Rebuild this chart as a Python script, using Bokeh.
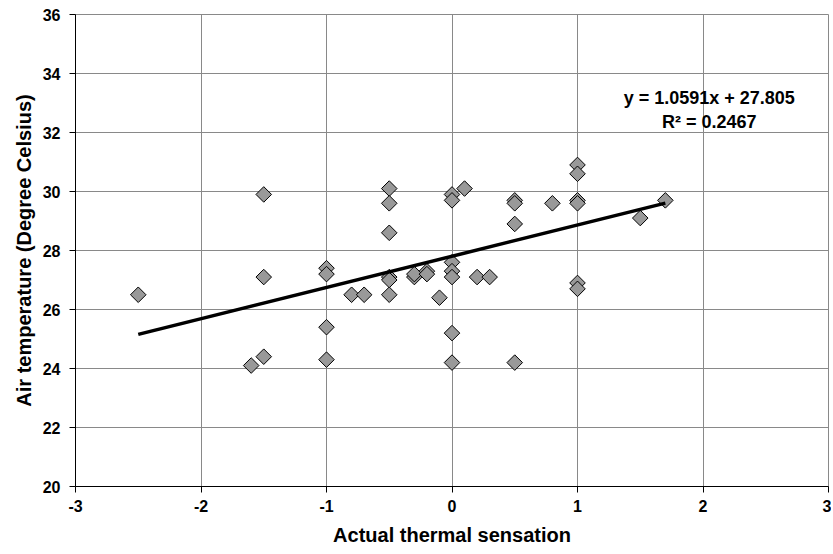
import math
from bokeh.plotting import figure
from bokeh.models import Range1d, FixedTicker, ColumnDataSource
from bokeh.core.properties import value
from bokeh.embed import file_html
from bokeh.resources import INLINE

# ---- data ----
sensation = [-2.5, -1.6, -1.5, -1.5, -1.5,
             -1.0, -1.0, -1.0, -1.0, -0.8, -0.7,
             -0.5, -0.5, -0.5, -0.5, -0.5, -0.5,
             -0.3, -0.3, -0.2, -0.2, -0.1,
             0.0, 0.0, 0.0, 0.0, 0.0, 0.0, 0.0,
             0.1, 0.2, 0.3,
             0.5, 0.5, 0.5, 0.5, 0.8,
             1.0, 1.0, 1.0, 1.0, 1.0, 1.0,
             1.5, 1.7]
air_temp = [26.5, 24.1, 24.4, 27.1, 29.9,
            27.4, 27.2, 25.4, 24.3, 26.5, 26.5,
            30.1, 29.6, 28.6, 27.1, 27.0, 26.5,
            27.1, 27.2, 27.3, 27.2, 26.4,
            29.9, 29.7, 27.6, 27.3, 27.1, 25.2, 24.2,
            30.1, 27.1, 27.1,
            29.7, 29.6, 28.9, 24.2, 29.6,
            30.9, 30.6, 29.7, 29.6, 26.9, 26.7,
            29.1, 29.7]
slope = 1.0591
intercept = 27.805
r_squared = 0.2467
x_ticks = [-3, -2, -1, 0, 1, 2, 3]
y_ticks = [20, 22, 24, 26, 28, 30, 32, 34, 36]

FONT = "Liberation Sans"
GRID = "#898989"

p = figure(width=831, height=552, output_backend="svg", toolbar_location=None,
           x_range=Range1d(-3, 3), y_range=Range1d(20, 36),
           min_border_left=75, min_border_right=3, min_border_top=14,
           min_border_bottom=66)
p.background_fill_color = "white"
p.border_fill_color = "white"
p.outline_line_color = GRID
p.outline_line_width = 1

for ax, ticks in ((p.xaxis[0], x_ticks), (p.yaxis[0], y_ticks)):
    ax.ticker = FixedTicker(ticks=ticks)
    ax.major_label_overrides = {t: str(t) for t in ticks}
    ax.minor_tick_line_color = None
    ax.major_tick_in = 0
    ax.major_tick_out = 6
    ax.major_tick_line_color = "black"
    ax.axis_line_color = "black"
    ax.axis_line_width = 1
    ax.major_label_text_font = FONT
    ax.major_label_text_font_style = "bold"
    ax.major_label_text_font_size = "16px"
    ax.major_label_text_color = "black"
    ax.axis_label_text_font = FONT
    ax.axis_label_text_font_style = "bold"
    ax.axis_label_text_font_size = "20px"
    ax.axis_label_text_color = "black"

p.xaxis.axis_label = "Actual thermal sensation"
p.yaxis.axis_label = "Air temperature (Degree Celsius)"
p.xaxis.major_label_standoff = 7
p.xaxis.axis_label_standoff = 9
p.yaxis.major_label_standoff = 9
p.yaxis.axis_label_standoff = 5

p.xgrid.grid_line_color = GRID
p.ygrid.grid_line_color = GRID
p.xgrid.grid_line_width = 1
p.ygrid.grid_line_width = 1

src = ColumnDataSource(dict(x=sensation, y=air_temp))
p.scatter("x", "y", source=src, marker="square", size=11, angle=math.pi / 4,
          fill_color="#999999", line_color="black", line_width=1)

x0, x1 = min(sensation), max(sensation)
p.line([x0, x1], [slope * x0 + intercept, slope * x1 + intercept],
       line_color="black", line_width=3.5)

eq1 = "y = %.4fx + %.3f" % (slope, intercept)
eq2 = "R\u00b2 = %.4f" % r_squared
p.text(x=[2.05], y=[33.18], text=[eq1], text_align="center",
       text_baseline="middle", text_font=value(FONT), text_font_style="bold",
       text_font_size="18px", text_color="black")
p.text(x=[2.05], y=[32.35], text=[eq2], text_align="center",
       text_baseline="middle", text_font=value(FONT), text_font_style="bold",
       text_font_size="18px", text_color="black")

open("out.html", "w").write(file_html(p, INLINE))
